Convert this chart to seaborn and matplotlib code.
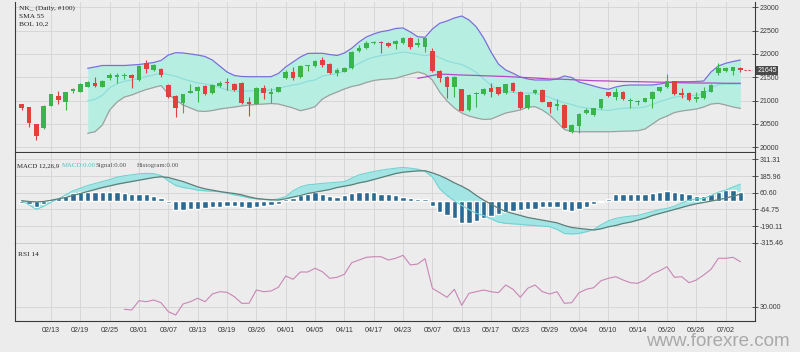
import matplotlib
matplotlib.use("Agg")
import matplotlib.pyplot as plt
import numpy as np
import pandas as pd
import seaborn as sns

# ---------------- data ----------------
tick_index = [4, 8, 12, 16, 20, 24, 28, 32, 36, 40, 44, 48, 52, 56, 60, 64, 68, 72, 76, 80, 84, 88, 92, 96]
tick_labels = ["02/13", "02/19", "02/25", "03/01", "03/07", "03/13", "03/19", "03/26", "04/01", "04/05",
               "04/11", "04/17", "04/23", "05/07", "05/13", "05/17", "05/23", "05/29", "06/04", "06/10",
               "06/14", "06/20", "06/26", "07/02"]

opens = [20921, 20863, 20493, 20407, 20891, 21099, 20977, 21206, 21191, 21298,
         21383, 21298, 21490, 21512, 21533, 21548, 21441, 21812, 21655, 21670,
         21334, 21099, 20942, 21169, 21212, 21313, 21156, 21313, 21405, 21356,
         21383, 20977, 20938, 21264, 21135, 21191, 21478, 21619, 21499, 21741,
         21741, 21869, 21777, 21598, 21619, 21692, 22062, 22120, 22227, 22261,
         22240, 22212, 22227, 22351, 22191, 22154, 22069, 21634, 21512, 21285,
         21242, 20799, 21135, 21141, 21264, 21285, 21156, 21371, 21191, 20835,
         21169, 21227, 20977, 20885, 20906, 20334, 20456, 20728, 20692, 20835,
         21178, 21084, 21191, 20992, 20970, 20977, 21034, 21212, 21285, 21420,
         21169, 21169, 21028, 21062, 21191, 21598, 21634, 21640, 21705]
highs = [20927, 20870, 20499, 20906, 21141, 21212, 21184, 21276, 21371, 21420,
         21512, 21441, 21591, 21585, 21585, 21570, 21762, 21869, 21784, 21698,
         21356, 21120, 21141, 21356, 21313, 21334, 21356, 21420, 21478, 21377,
         21405, 21084, 21291, 21334, 21264, 21302, 21645, 21713, 21762, 21765,
         21859, 21927, 21795, 21692, 21720, 22062, 22191, 22276, 22276, 22283,
         22255, 22298, 22362, 22362, 22334, 22351, 22120, 21645, 21527, 21527,
         21259, 21141, 21184, 21270, 21371, 21298, 21366, 21388, 21206, 21141,
         21249, 21249, 20991, 21028, 20917, 20499, 20735, 20842, 20852, 21045,
         21195, 21264, 21206, 21049, 21013, 21066, 21206, 21302, 21570, 21430,
         21264, 21184, 21191, 21285, 21345, 21812, 21709, 21726, 21720]
lows = [20799, 20441, 20157, 20392, 20885, 20921, 20799, 21156, 21184, 21291,
        21291, 21291, 21441, 21371, 21456, 21276, 21420, 21598, 21634, 21512,
        21056, 20643, 20741, 21163, 20977, 21120, 21141, 21291, 21227, 21206,
        20927, 20670, 20927, 21028, 20942, 21184, 21463, 21441, 21484, 21634,
        21730, 21726, 21570, 21527, 21602, 21677, 22051, 22105, 22212, 22013,
        22148, 22098, 22212, 22098, 22154, 22047, 21619, 21405, 21049, 21084,
        20767, 20777, 20870, 21120, 21084, 21120, 21141, 21195, 20810, 20820,
        21152, 20960, 20728, 20799, 20403, 20300, 20300, 20713, 20681, 20820,
        21088, 21013, 21013, 20835, 20906, 20960, 20835, 21195, 21270, 21120,
        21049, 20998, 20977, 21045, 21184, 21548, 21613, 21548, 21623]
closes = [20848, 20514, 20242, 20891, 21135, 21013, 21178, 21242, 21356, 21398,
          21313, 21420, 21555, 21555, 21544, 21490, 21741, 21670, 21752, 21559,
          21071, 20835, 21135, 21206, 21298, 21135, 21334, 21383, 21371, 21227,
          20942, 20927, 21270, 21156, 21191, 21285, 21619, 21478, 21741, 21762,
          21848, 21762, 21585, 21655, 21705, 22047, 22133, 22240, 22261, 22240,
          22169, 22283, 22347, 22154, 22227, 22334, 21640, 21490, 21285, 21512,
          20784, 21120, 21169, 21242, 21191, 21135, 21349, 21212, 20835, 21120,
          21227, 20977, 20857, 20927, 20420, 20478, 20707, 20799, 20835, 21028,
          21105, 21178, 21028, 21013, 20992, 21049, 21191, 21285, 21420, 21135,
          21120, 21013, 21084, 21212, 21334, 21692, 21692, 21726, 21645]

bb_start = 9
bb_upper = [21692, 21720, 21752, 21752, 21752, 21752, 21762, 21773, 21794, 21816,
            21859, 21976, 22026, 22019, 21998, 21976, 21944, 21869, 21741, 21613,
            21538, 21516, 21512, 21512, 21512, 21512, 21580, 21720, 21827, 21934,
            22009, 22013, 22013, 21987, 21966, 22019, 22120, 22255, 22362, 22426,
            22475, 22501, 22544, 22555, 22469, 22368, 22355, 22533, 22655, 22704,
            22769, 22811, 22726, 22576, 22340, 22041, 21784, 21655, 21585, 21505,
            21463, 21441, 21441, 21441, 21463, 21527, 21495, 21398, 21356, 21313,
            21270, 21242, 21291, 21323, 21334, 21334, 21334, 21334, 21356, 21383,
            21405, 21405, 21405, 21409, 21420, 21613, 21741, 21799, 21837, 21869]
bb_mid = [20996, 21027, 21115, 21276, 21361, 21415, 21441, 21479, 21516, 21549,
          21591, 21559, 21520, 21463, 21420, 21377, 21356, 21329, 21281, 21228,
          21201, 21201, 21209, 21215, 21220, 21225, 21254, 21303, 21335, 21359,
          21415, 21442, 21524, 21554, 21575, 21634, 21711, 21795, 21875, 21929,
          21964, 21982, 22011, 22041, 22020, 21991, 21963, 21987, 21920, 21848,
          21806, 21773, 21698, 21602, 21468, 21324, 21227, 21195, 21176, 21152,
          21163, 21156, 21120, 21067, 21003, 20954, 20917, 20866, 20845, 20824,
          20802, 20788, 20815, 20834, 20842, 20845, 20863, 20917, 20981, 21027,
          21075, 21092, 21102, 21115, 21142, 21270, 21342, 21353, 21350, 21352]
bb_lower = [20300, 20334, 20478, 20799, 20970, 21077, 21120, 21184, 21238, 21281,
            21323, 21141, 21013, 20906, 20842, 20778, 20767, 20788, 20820, 20842,
            20863, 20885, 20906, 20917, 20927, 20938, 20927, 20885, 20842, 20784,
            20820, 20870, 21034, 21120, 21184, 21249, 21302, 21334, 21388, 21431,
            21452, 21463, 21478, 21527, 21570, 21613, 21570, 21441, 21184, 20992,
            20842, 20735, 20670, 20628, 20596, 20606, 20670, 20735, 20767, 20799,
            20863, 20870, 20799, 20692, 20542, 20381, 20338, 20334, 20334, 20334,
            20334, 20334, 20338, 20345, 20349, 20356, 20392, 20499, 20606, 20670,
            20745, 20778, 20799, 20820, 20863, 20927, 20942, 20906, 20863, 20835]

sma_start = 54
sma55 = [21478, 21505, 21538, 21565, 21563, 21555, 21548, 21543, 21538, 21532,
         21527, 21521, 21516, 21508, 21499, 21491, 21484, 21473, 21463, 21460,
         21456, 21448, 21441, 21433, 21426, 21423, 21420, 21414, 21409, 21407,
         21405, 21401, 21398, 21395, 21392, 21387, 21383, 21380, 21377, 21377,
         21377, 21374, 21371, 21371, 21371]

macd_line = [1, -30, -64, -40, -10, 15, 45, 75, 95, 115,
             130, 145, 160, 178, 188, 195, 203, 206, 204, 190,
             150, 115, 100, 92, 80, 75, 72, 68, 58, 45,
             35, 22, 15, 10, 6, 15, 31, 75, 105, 120,
             125, 131, 135, 140, 144, 170, 195, 208, 220, 230,
             238, 245, 251, 245, 238, 220, 180, 90, 40, 0,
             -35, -65, -95, -110, -135, -160, -169, -173, -177, -182,
             -186, -190, -194, -215, -245, -249, -245, -232, -215, -180,
             -150, -132, -122, -115, -110, -95, -80, -65, -57, -40,
             -15, 5, 15, 18, 40, 65, 81, 105, 125]
macd_signal = [1, -5, -8, -5, 5, 15, 25, 40, 55, 70,
               85, 100, 112, 125, 135, 145, 155, 165, 175, 181,
               175, 160, 145, 125, 105, 90, 80, 70, 62, 55,
               45, 30, 18, 12, 8, 6, 15, 28, 40, 55,
               65, 75, 85, 100, 110, 120, 135, 145, 160, 175,
               190, 205, 215, 220, 225, 226, 210, 190, 165, 135,
               110, 80, 40, 5, -25, -55, -80, -95, -110, -125,
               -135, -145, -155, -165, -185, -200, -207, -213, -219, -210,
               -195, -185, -170, -160, -145, -130, -110, -95, -80, -65,
               -50, -35, -22, -12, -2, 8, 20, 35, 50]
macd_hist = [-20, -25, -50, -25, 10, 18, 38, 60, 68, 68,
             68, 68, 68, 63, 60, 55, 50, 48, 38, 18,
             -20, -70, -70, -65, -60, -57, -50, -45, -40, -37,
             -50, -57, -45, -40, -32, -25, 10, 18, 43, 55,
             63, 50, 35, 30, 43, 60, 68, 68, 63, 55,
             50, 45, 30, 18, 10, 10, -40, -82, -107, -132,
             -165, -165, -150, -132, -115, -102, -87, -75, -70, -65,
             -60, -50, -45, -50, -70, -77, -65, -45, -27, -10,
             10, 48, 55, 55, 55, 55, 60, 68, 75, 68,
             60, 48, 35, 38, 50, 68, 80, 80, 70]

rsi_start = 14
rsi14 = [27.4, 26.7, 36.0, 35.0, 36.7, 34.0, 25.0, 21.7, 32.7, 35.0,
         38.4, 35.0, 42.7, 45.0, 44.4, 40.0, 33.4, 33.4, 46.7, 45.0,
         45.7, 49.4, 60.7, 57.4, 64.7, 64.7, 68.4, 65.0, 58.4, 59.4,
         62.4, 74.0, 76.7, 79.4, 80.0, 80.0, 76.7, 78.4, 81.4, 71.7,
         72.7, 78.0, 48.4, 44.0, 39.4, 47.4, 31.4, 43.4, 45.0, 46.7,
         45.0, 44.0, 51.7, 47.4, 39.4, 48.4, 51.7, 45.0, 42.7, 45.0,
         33.4, 34.0, 44.0, 47.4, 49.0, 56.0, 58.4, 60.0, 56.7, 54.0,
         53.4, 56.7, 62.7, 66.0, 70.0, 59.4, 60.0, 54.0, 56.7, 61.7,
         67.4, 78.4, 78.4, 79.4, 75.0]

price_ticks = [20000, 20500, 21000, 21500, 22000, 22500, 23000]
macd_ticks = [311.31, 185.96, 60.60, -64.75, -190.11, -315.46]
rsi_ticks = [30.0]

# ---------------- style ----------------
BG = "#ececec"
sns.set_theme(style="white")
plt.rcParams["font.family"] = ["Liberation Sans", "DejaVu Sans"]

GREEN = "#3ab54b"
RED = "#e2403e"
TXT = "#3a3a3a"
SERIF = ["Liberation Serif", "DejaVu Serif"]

fig = plt.figure(figsize=(8, 3.52), dpi=100, facecolor=BG)
L, W = 0.0184, 0.9254
ax1 = fig.add_axes([L, 0.5682, W, 0.4261])
ax2 = fig.add_axes([L, 0.3082, W, 0.2571])
ax3 = fig.add_axes([L, 0.0881, W, 0.2187])

# ---------------- price panel ----------------
x = np.arange(len(closes))
o = np.array(opens); c = np.array(closes); h = np.array(highs); lo = np.array(lows)
up = c >= o
cols = np.where(up, GREEN, RED)
bb_x = np.arange(bb_start, bb_start + len(bb_upper))
sma_x = np.arange(sma_start, sma_start + len(sma55))

ax1.fill_between(bb_x, bb_lower, bb_upper, color="#b6efe1", lw=0, zorder=1)
sns.lineplot(x=bb_x, y=bb_upper, ax=ax1, color="#7870d8", lw=0.9, zorder=2)
sns.lineplot(x=bb_x, y=bb_lower, ax=ax1, color="#a0a0a0", lw=0.9, zorder=2)
sns.lineplot(x=bb_x, y=bb_mid, ax=ax1, color="#8ddedb", lw=0.9, zorder=2)
sns.lineplot(x=sma_x, y=sma55, ax=ax1, color="#b548c8", lw=0.9, zorder=3)

ax1.vlines(x, lo, h, colors=cols, lw=0.8, zorder=4)
body_h = np.maximum(np.abs(c - o), 8)
ax1.bar(x, body_h, bottom=np.minimum(o, c), width=0.62, color=cols, lw=0, zorder=5)
ax1.hlines(c[-1], len(c) - 0.5, len(c) + 0.6, colors=RED, linestyles=(0, (2, 1.5)), lw=0.8, zorder=5)

ax1.set_ylim(19900, 23111)
ax1.set_yticks(price_ticks)
ax1.set_yticklabels([str(v) for v in price_ticks])
ax1.annotate(str(closes[-1]), xy=(1.003, closes[-1]), xycoords=("axes fraction", "data"),
             ha="left", va="center", fontsize=5, color="white",
             bbox=dict(boxstyle="square,pad=0.15", fc="#4a4a4a", ec="none"), zorder=10)

# ---------------- MACD panel ----------------
mx = np.arange(len(macd_line))
ax2.fill_between(mx, macd_line, macd_signal, color="#a3e5e5", lw=0, zorder=1)
sns.barplot(x=mx, y=macd_hist, ax=ax2, native_scale=True, width=0.7, color="#2b6a92",
            saturation=1, errorbar=None, zorder=2)
sns.lineplot(x=mx, y=macd_line, ax=ax2, color="#72d2d2", lw=0.8, zorder=3)
sns.lineplot(x=mx, y=macd_signal, ax=ax2, color="#5d7f78", lw=0.9, zorder=3)
ax2.set_ylim(-320.5, 359)
ax2.set_yticks(macd_ticks)
ax2.set_yticklabels([f"{v:.2f}" for v in macd_ticks])

# ---------------- RSI panel ----------------
rx = np.arange(rsi_start, rsi_start + len(rsi14))
sns.lineplot(x=rx, y=rsi14, ax=ax3, color="#c886b5", lw=0.8)
ax3.set_ylim(15.7, 92.7)
ax3.set_yticks(rsi_ticks)
ax3.set_yticklabels([f"{v:.3f}" for v in rsi_ticks])

# ---------------- common axes styling ----------------
for ax in (ax1, ax2, ax3):
    ax.set_facecolor(BG)
    ax.set_axisbelow(True)
    ax.grid(True, color="#d3d3d3", lw=0.6)
    for s in ("left", "bottom", "right"):
        ax.spines[s].set_color("#3a3a3a")
        ax.spines[s].set_linewidth(0.8)
    ax.spines["top"].set_visible(False)
    ax.yaxis.tick_right()
    ax.tick_params(axis="y", direction="inout", length=5, width=0.6, labelsize=5,
                   colors=TXT, pad=1, left=False, right=True)
    ax.tick_params(axis="x", direction="inout", length=4, width=0.6, labelsize=5.2,
                   colors=TXT, pad=2)
    ax.set_xlim(-0.95, 100.0)
    ax.set_xticks(tick_index)
    ax.set_xlabel("")
    ax.set_ylabel("")
    if ax is ax3:
        ax.set_xticklabels(tick_labels)
    else:
        ax.set_xticklabels([])
    leg = ax.get_legend()
    if leg:
        leg.remove()

# ---------------- labels ----------------
def ft(xp, yp, s, color="#222222", size=5.3):
    fig.text(xp / 800, 1 - yp / 352, s, ha="left", va="center", fontsize=size,
             color=color, family=SERIF)

ft(19, 8, "NK_ (Daily, #100)")
ft(19, 16, "SMA 55")
ft(19, 24, "BOL 10,2")
ft(17, 165.5, "MACD 12,26,9", size=4.9)
ft(62, 165.5, "MACD:0.00", color="#4cc6c6", size=4.9)
ft(96, 165.5, "Signal:0.00", color="#555555", size=4.9)
ft(137, 165.5, "Histogram:0.00", color="#555555", size=4.9)
ft(18, 254, "RSI 14")

fig.text(790 / 800, 1 - 342 / 352, "www.forexre.com", ha="right", va="center",
         fontsize=13.5, color="#a9a9a9", family=["Liberation Sans", "DejaVu Sans"])

fig.savefig("out.png", dpi=100, facecolor=BG)
